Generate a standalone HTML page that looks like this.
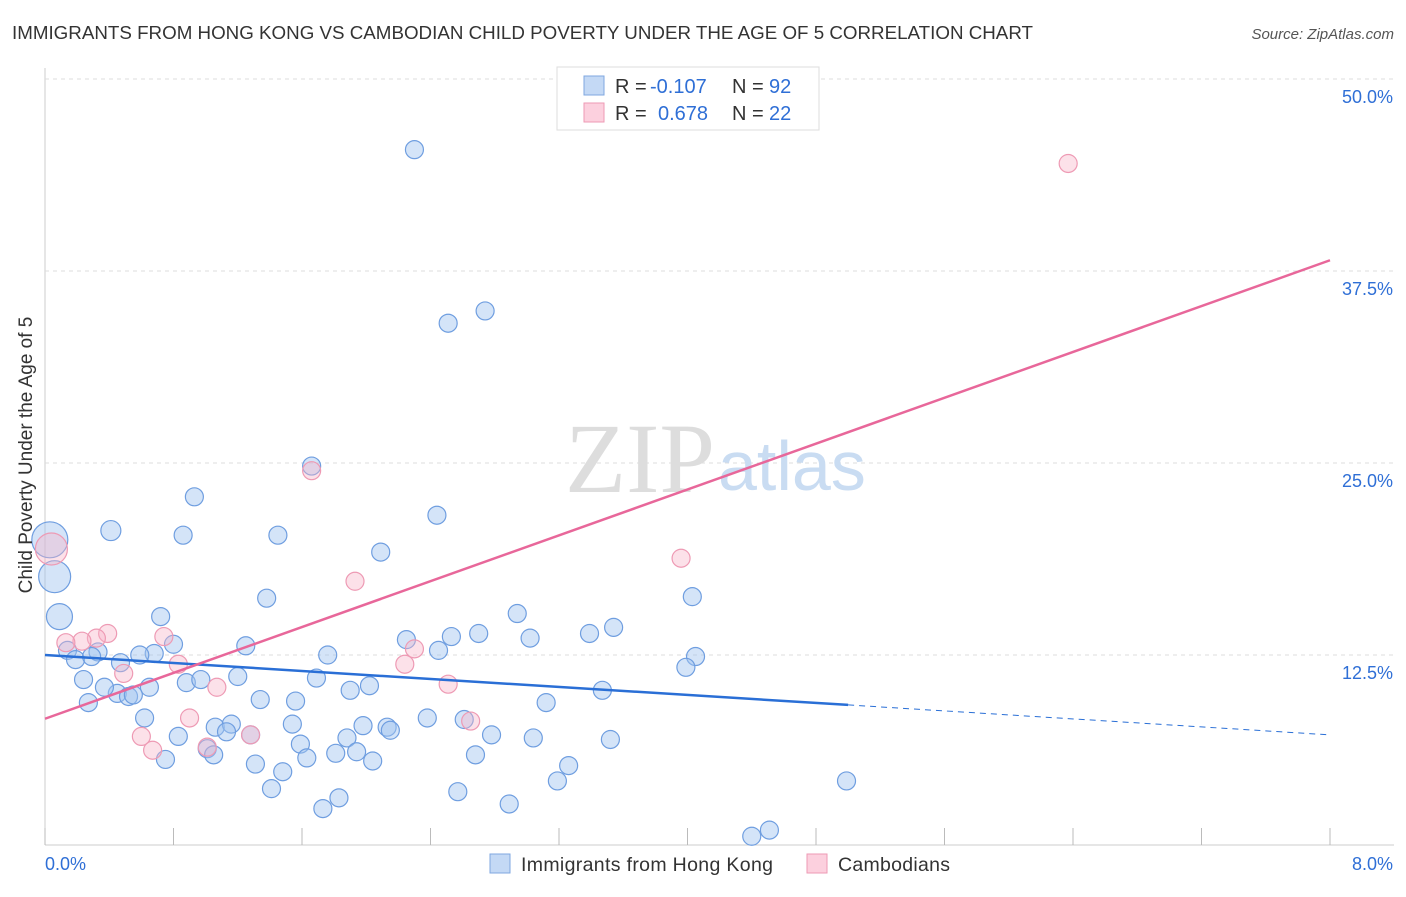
<!DOCTYPE html>
<html><head><meta charset="utf-8"><style>
body{margin:0;background:#fff;font-family:"Liberation Sans",sans-serif}
svg text{font-family:"Liberation Sans",sans-serif}
</style></head><body>
<svg width="1406" height="892">
<text x="12" y="39" font-size="18" fill="#333" textLength="1021" lengthAdjust="spacingAndGlyphs">IMMIGRANTS FROM HONG KONG VS CAMBODIAN CHILD POVERTY UNDER THE AGE OF 5 CORRELATION CHART</text>
<text x="1394" y="39" font-size="15" fill="#555" font-style="italic" text-anchor="end">Source: ZipAtlas.com</text>
<g id="grid"></g>
<text x="715" y="492" font-size="100" fill="#ddd" font-family="Liberation Serif" text-anchor="end" style="font-family:'Liberation Serif',serif">ZIP</text>
<text x="718" y="490" font-size="70" fill="#c9dcf2">atlas</text>
<g id="pts"></g>
<g id="lines"></g>
<text x="32" y="455" font-size="19" fill="#333" text-anchor="middle" transform="rotate(-90 32 455)">Child Poverty Under the Age of 5</text>
<g>
<rect x="557" y="67" width="262" height="63" fill="#fff" stroke="#ddd"/>
<rect x="584" y="76" width="20" height="19" fill="#c4d9f5" stroke="#7fa7e0"/>
<rect x="584" y="103" width="20" height="19" fill="#fcd0de" stroke="#ee9ab4"/>
<text x="615" y="93" font-size="20" fill="#333">R = <tspan fill="#2f6fd6" x="650">-0.107</tspan><tspan x="732">N = </tspan><tspan fill="#2f6fd6" x="769">92</tspan></text>
<text x="615" y="120" font-size="20" fill="#333">R = <tspan fill="#2f6fd6" x="658">0.678</tspan><tspan x="732">N = </tspan><tspan fill="#2f6fd6" x="769">22</tspan></text>
</g>
<g>
<rect x="490" y="854" width="20" height="19" fill="#c4d9f5" stroke="#7fa7e0"/>
<text x="521" y="871" font-size="19.5" fill="#333" textLength="252">Immigrants from Hong Kong</text>
<rect x="807" y="854" width="20" height="19" fill="#fcd0de" stroke="#ee9ab4"/>
<text x="838" y="871" font-size="19.5" fill="#333" textLength="112">Cambodians</text>
</g>
</svg>
<script>
const yTicks=[12.5,25,37.5,50];
const xTickLabels=["0.0%","8.0%"];
const blueX=[2.3,2.51,2.74,1.66,0.93,2.44,0.41,0.86,1.45,2.09,0.03,0.06,0.09,1.38,2.94,4.03,0.72,3.54,3.39,3.02,2.7,2.53,2.25,1.25,0.8,0.68,0.59,0.33,0.14,0.19,0.29,0.47,1.76,2.45,4.05,3.99,0.24,0.65,0.88,0.97,1.2,1.69,1.9,2.02,3.47,0.45,0.37,0.52,0.55,0.27,1.34,1.56,3.12,0.62,2.38,2.61,1.54,1.98,2.13,2.15,1.06,1.16,1.13,1.28,0.83,1.88,2.78,3.04,3.52,1.59,1.01,1.05,1.94,0.75,1.63,1.81,2.04,2.68,1.31,1.48,3.26,3.19,4.99,1.41,2.57,1.83,1.73,2.89,4.51,4.4];
const blueY=[45.4,34.1,34.9,24.8,22.8,21.6,20.6,20.3,20.3,19.2,20.0,17.6,15.0,16.2,15.2,16.3,15.0,14.3,13.9,13.6,13.9,13.7,13.5,13.1,13.2,12.6,12.5,12.7,12.8,12.2,12.4,12.0,12.5,12.8,12.4,11.7,10.9,10.4,10.7,10.9,11.1,11.0,10.2,10.5,10.2,10.0,10.4,9.8,9.9,9.4,9.6,9.5,9.4,8.4,8.4,8.3,8.0,7.9,7.8,7.6,7.8,8.0,7.5,7.3,7.2,7.1,7.3,7.1,7.0,6.7,6.4,6.0,6.2,5.7,5.8,6.1,5.6,6.0,5.4,4.9,5.3,4.3,4.3,3.8,3.6,3.2,2.5,2.8,1.1,0.7];
const blueR=[9,9,9,9,9,9,10,9,9,9,18,16,13,9,9,9,9,9,9,9,9,9,9,9,9,9,9,9,9,9,9,9,9,9,9,9,9,9,9,9,9,9,9,9,9,9,9,9,9,9,9,9,9,9,9,9,9,9,9,9,9,9,9,9,9,9,9,9,9,9,9,9,9,9,9,9,9,9,9,9,9,9,9,9,9,9,9,9,9,9];
const pinkX=[6.37,1.66,1.93,3.96,0.39,0.32,0.23,0.13,0.74,2.3,0.83,2.24,0.49,2.51,1.07,0.9,2.65,0.6,0.67,1.01,1.28,0.04];
const pinkY=[44.5,24.5,17.3,18.8,13.9,13.6,13.4,13.3,13.7,12.9,11.9,11.9,11.3,10.6,10.4,8.4,8.2,7.2,6.3,6.5,7.3,19.4];
const blueLine=[[0,12.5],[5,9.25],[8,7.3]];
const pinkLine=[[0,8.35],[8,38.2]];
const X0=45,X1=1330,Y0=847,YS=192/12.5;
const sx=v=>X0+(v/8)*(X1-X0), sy=v=>Y0-v*YS;
const NS="http://www.w3.org/2000/svg";
function mk(t,a,p){const e=document.createElementNS(NS,t);for(const k in a)e.setAttribute(k,a[k]);p.appendChild(e);return e;}
const grid=document.getElementById('grid');
mk('line',{x1:45,y1:68,x2:45,y2:845,stroke:'#ccc'},grid);
mk('line',{x1:45,y1:845,x2:1394,y2:845,stroke:'#ccc'},grid);
yTicks.forEach(t=>{
const l=mk('line',{x1:45,y1:sy(t),x2:1394,y2:sy(t),stroke:'#ddd','stroke-dasharray':'4,4'},grid);


const tx=mk('text',{x:1393,y:sy(t)+24,'font-size':18,fill:'#2f6fd6','text-anchor':'end'},grid);
tx.textContent=t.toFixed(1)+'%';


});
for(let i=0;i<=10;i++){const x=X0+i*(X1-X0)/10;
const l=mk('line',{x1:x,y1:828,x2:x,y2:845,stroke:'#bbb'},grid);

}
[[0,'start',45],[1,'end',1393]].forEach(([i,a,x])=>{
const t=mk('text',{x:x,y:870,'font-size':18,fill:'#2f6fd6','text-anchor':a},grid);
t.textContent=xTickLabels[i];

});
const pts=document.getElementById('pts');
blueX.forEach((v,i)=>{
const c=mk('circle',{cx:sx(v),cy:sy(blueY[i]),r:blueR[i],fill:'rgba(160,195,240,0.45)',stroke:'#6f9ee0','stroke-width':1.2},pts);

});
pinkX.forEach((v,i)=>{
const c=mk('circle',{cx:sx(v),cy:sy(pinkY[i]),r:i==21?16:9,fill:'rgba(248,180,200,0.4)',stroke:'#ee9ab4','stroke-width':1.2},pts);

});
const lines=document.getElementById('lines');
const b1=mk('line',{x1:sx(blueLine[0][0]),y1:sy(blueLine[0][1]),x2:sx(blueLine[1][0]),y2:sy(blueLine[1][1]),stroke:'#2a6fd6','stroke-width':2.5},lines);


const b2=mk('line',{x1:sx(blueLine[1][0]),y1:sy(blueLine[1][1]),x2:sx(blueLine[2][0]),y2:sy(blueLine[2][1]),stroke:'#2a6fd6','stroke-width':1,'stroke-dasharray':'6,5'},lines);


const p1=mk('line',{x1:sx(pinkLine[0][0]),y1:sy(pinkLine[0][1]),x2:sx(pinkLine[1][0]),y2:sy(pinkLine[1][1]),stroke:'#e8679a','stroke-width':2.5},lines);


</script>
</body></html>
